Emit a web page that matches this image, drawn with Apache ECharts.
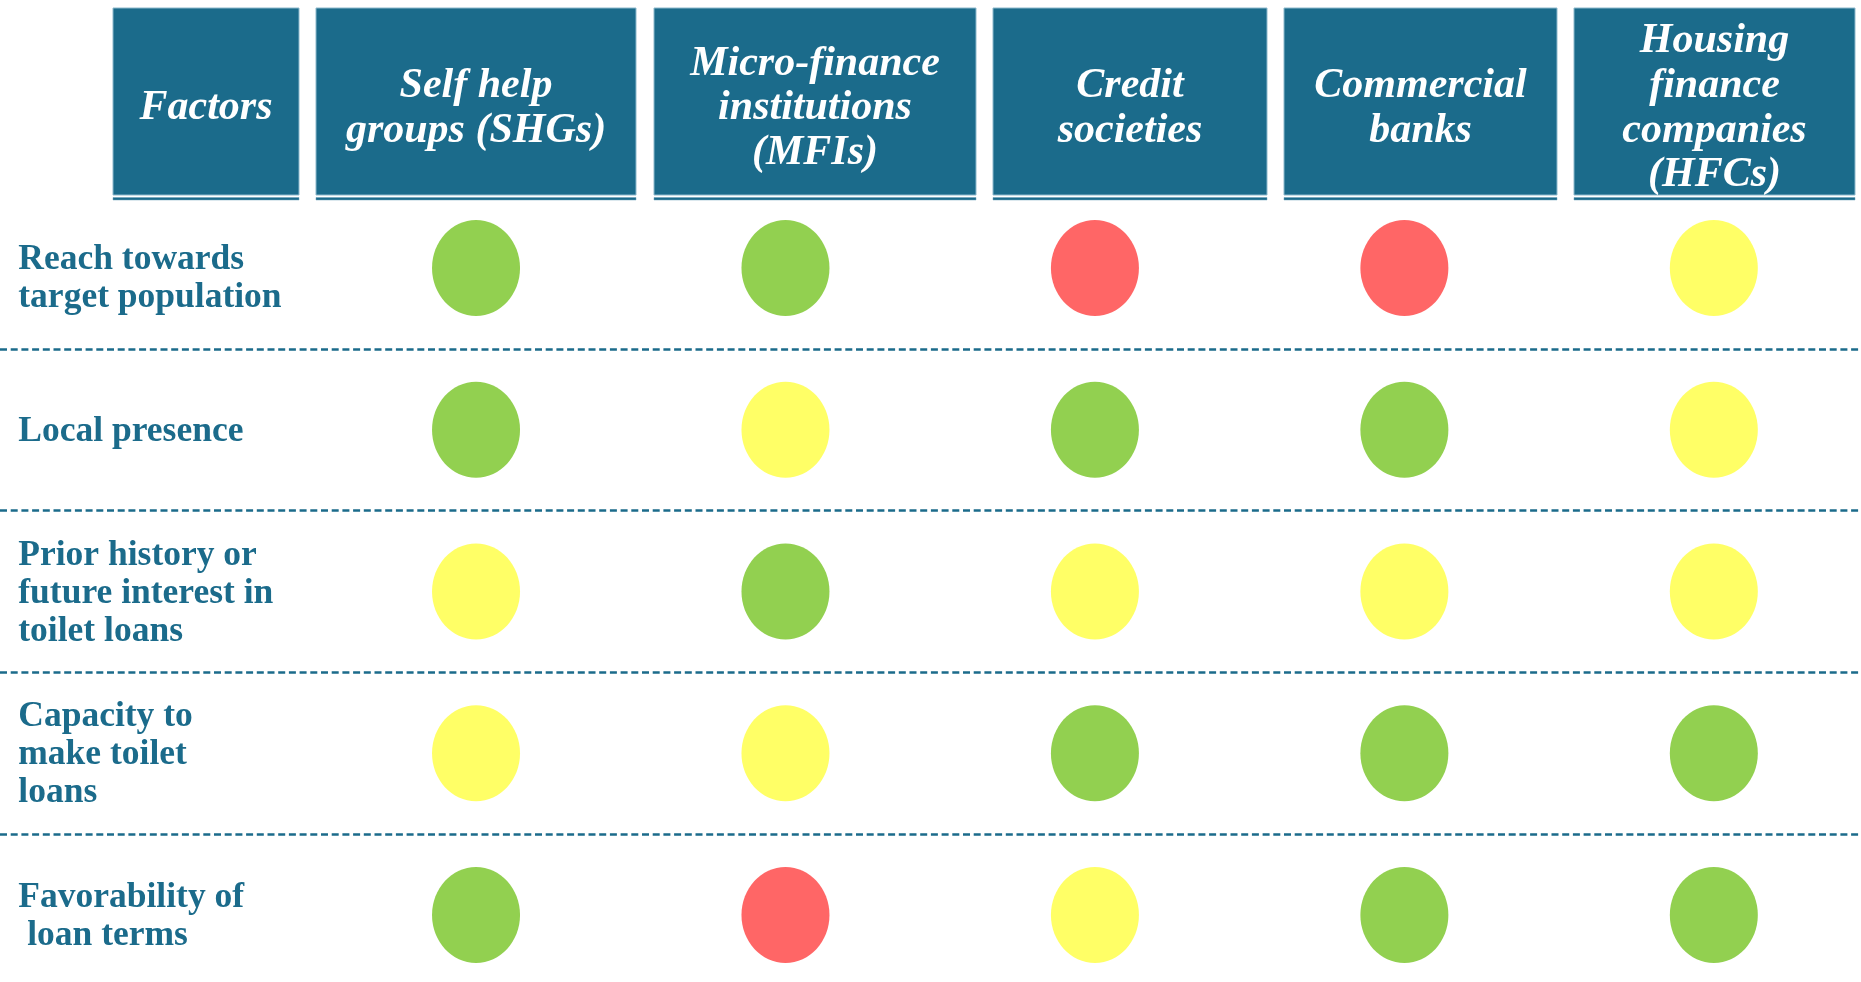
<!DOCTYPE html>
<html>
<head>
<meta charset="utf-8">
<script src="https://cdn.jsdelivr.net/npm/echarts@6/dist/echarts.min.js"></script>
<style>
  html, body { margin: 0; padding: 0; background: #ffffff; }
  #chart { width: 1861px; height: 982px; }
</style>
</head>
<body>
<div id="chart"></div>
<script>
// ---------- DATA ----------
const factorHeader = 'Factors';
const columns = [
  'Self help\ngroups (SHGs)',
  'Micro-finance\ninstitutions\n(MFIs)',
  'Credit\nsocieties',
  'Commercial\nbanks',
  'Housing\nfinance\ncompanies\n(HFCs)'
];
const factors = [
  'Reach towards\ntarget population',
  'Local presence',
  'Prior history or\nfuture interest in\ntoilet loans',
  'Capacity to\nmake toilet\nloans',
  'Favorability of\n loan terms'
];
// ratings per factor (row), one per column: good / fair / poor
const reachRatings         = ['good', 'good', 'poor', 'poor', 'fair'];
const localPresenceRatings = ['good', 'fair', 'good', 'good', 'fair'];
const priorHistoryRatings  = ['fair', 'good', 'fair', 'fair', 'fair'];
const capacityRatings      = ['fair', 'fair', 'good', 'good', 'good'];
const favorabilityRatings  = ['good', 'poor', 'fair', 'good', 'good'];
const ratingLevels = ['good', 'fair', 'poor'];

// ---------- STYLE / LAYOUT ----------
const ratingColors = { good: '#92D050', fair: '#FFFF66', poor: '#FF6666' };
const teal = '#1B6B8B';
const headerBoxes = [ // [left, right] in px
  [113, 299], [316, 636], [654, 976], [993, 1267], [1284, 1557], [1574, 1855]
];
const headerTop = 8, headerBottom = 195, headerTextY = 108.5;

const allRatings = [reachRatings, localPresenceRatings, priorHistoryRatings, capacityRatings, favorabilityRatings];

const ellipsePath = 'path://M0,50 C0,22.4 22.4,0 50,0 C77.6,0 100,22.4 100,50 C100,77.6 77.6,100 50,100 C22.4,100 0,77.6 0,50 Z';

const series = ratingLevels.map(level => {
  const data = [];
  allRatings.forEach((row, r) => {
    row.forEach((v, c) => { if (v === level) data.push([c, r]); });
  });
  return {
    type: 'scatter',
    name: level,
    xAxisIndex: 0,
    yAxisIndex: 0,
    symbol: ellipsePath,
    symbolSize: [88, 96],
    itemStyle: { color: ratingColors[level], opacity: 1 },
    emphasis: { disabled: true },
    data: data
  };
});

const headerTexts = [factorHeader].concat(columns);
const graphics = [];
headerBoxes.forEach((b, i) => {
  graphics.push({
    type: 'rect', z: 100,
    shape: { x: b[0], y: headerTop, width: b[1] - b[0], height: headerBottom - headerTop },
    style: { fill: teal, stroke: '#8DB9CC', lineWidth: 1 }
  });
  graphics.push({
    type: 'rect', z: 100,
    shape: { x: b[0], y: 197.5, width: b[1] - b[0], height: 2.5 },
    style: { fill: teal, stroke: '#6FA3BA', lineWidth: 0.5 }
  });
  graphics.push({
    type: 'text', z: 101,
    x: (b[0] + b[1]) / 2, y: headerTextY,
    style: {
      text: headerTexts[i],
      fill: '#ffffff',
      font: 'italic bold 42px "Liberation Serif"',
      lineHeight: 44.6,
      align: 'center', verticalAlign: 'middle',
      textAlign: 'center', textVerticalAlign: 'middle'
    }
  });
});

const gridTop = 187, gridHeight = 809;

const chart = echarts.init(document.getElementById('chart'), null, { renderer: 'canvas' });
chart.setOption({
  animation: false,
  backgroundColor: '#ffffff',
  grid: [
    { left: 321.3, width: 1547.25, top: gridTop, height: gridHeight, outerBoundsMode: 'none', containLabel: false },
    { left: 0, right: 0, top: gridTop, height: gridHeight, outerBoundsMode: 'none', containLabel: false }
  ],
  xAxis: [
    { type: 'category', gridIndex: 0, data: columns, show: false },
    { type: 'category', gridIndex: 1, data: ['x'], show: false }
  ],
  yAxis: [
    {
      type: 'category', gridIndex: 0, data: factors, inverse: true,
      axisLine: { show: false }, axisTick: { show: false }, splitLine: { show: false },
      axisLabel: {
        align: 'left', margin: 303,
        color: teal, fontFamily: 'Liberation Serif', fontWeight: 'bold',
        fontSize: 35.5, lineHeight: 38,
        padding: [4, 0, 0, 0],
        formatter: (v, i) => i === 0 ? '{pad|}\n' + v : v,
        rich: { pad: { lineHeight: 18, fontSize: 1 } }
      }
    },
    {
      type: 'category', gridIndex: 1, data: factors, inverse: true,
      axisLine: { show: false }, axisTick: { show: false }, axisLabel: { show: false },
      splitLine: {
        show: true, showMinLine: false, showMaxLine: false,
        lineStyle: { color: teal, width: 2.6, type: [7, 3.7] }
      }
    }
  ],
  series: series,
  graphic: graphics
});
</script>
</body>
</html>
